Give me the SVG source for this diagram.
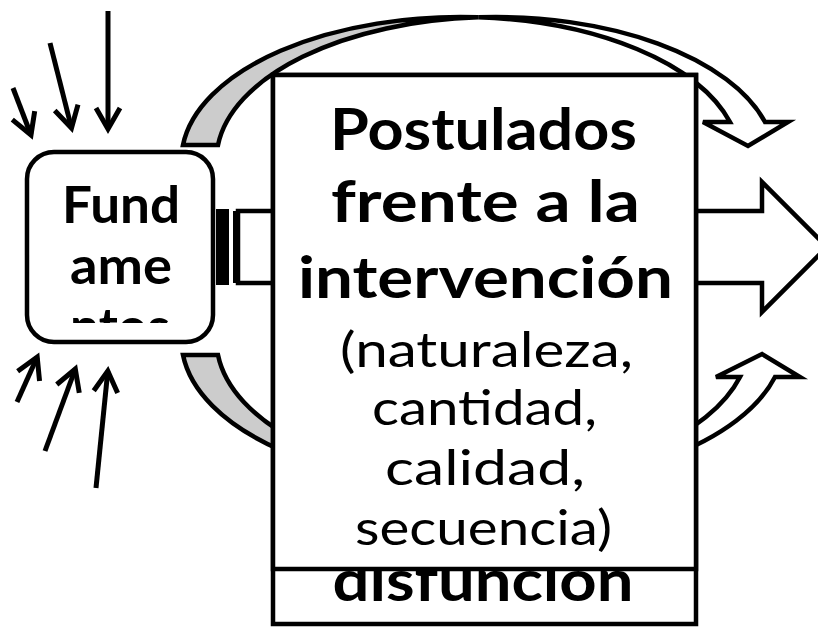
<svg xmlns="http://www.w3.org/2000/svg" width="818" height="627" viewBox="0 0 818 627">
<style>
.ln{stroke:#000;stroke-width:5;fill:none}
.shape{stroke:#000;stroke-width:4.5;stroke-linejoin:miter}
.grey{fill:#cccccc}
.white{fill:#ffffff}
.box{fill:#ffffff;stroke:#000;stroke-width:4.5}
.b{font-family:Lato,"Liberation Sans",sans-serif;font-weight:bold;text-anchor:middle;fill:#000}
.r{font-family:Lato,"Liberation Sans",sans-serif;font-weight:normal;text-anchor:middle;fill:#000}
</style>
<defs>
<marker id="ah" markerUnits="userSpaceOnUse" viewBox="-26 -16 32 32" markerWidth="32" markerHeight="32" refX="0" refY="0" orient="auto" overflow="visible">
<path d="M-21,-12 L0,0 L-21,12" fill="none" stroke="#000" stroke-width="5"/>
</marker>
<clipPath id="fclip"><rect x="27" y="152" width="186" height="171"/></clipPath>
</defs>
<rect width="818" height="627" fill="#fff"/>
<g id="connectors">
<line class="ln" x1="13" y1="88" x2="31" y2="135" marker-end="url(#ah)"/>
<line class="ln" x1="50" y1="43" x2="71.5" y2="128" marker-end="url(#ah)"/>
<line class="ln" x1="108" y1="11" x2="108" y2="129" marker-end="url(#ah)"/>
<line class="ln" x1="17" y1="402" x2="37.2" y2="357" marker-end="url(#ah)"/>
<line class="ln" x1="45" y1="451" x2="75.3" y2="369" marker-end="url(#ah)"/>
<line class="ln" x1="96" y1="488" x2="107.8" y2="371" marker-end="url(#ah)"/>
<g id="curved-top">
<path class="shape white" d="M478.3,17.3 A279.3,143 0 0,1 765,122 L788,122 L748,146 L703,122 L730,122 A279.3,143 0 0,0 478.3,17.3 Z"/>
<path class="shape grey" d="M183,145 A279.3,143 0 0,1 478.3,17.3 A279.3,143 0 0,0 218,145 Z"/>
</g>
<g id="curved-bottom">
<path class="shape white" d="M483,484.7 A284,145 0 0,0 775,377 L800,377 L762,354 L716,377 L740,377 A284,145 0 0,1 483,484.7 Z"/>
<path class="shape grey" d="M183,355 A284,145 0 0,0 483,484.7 A284,145 0 0,1 218,355 Z"/>
</g>
<g id="striped-arrow">
<rect x="218" y="211" width="9" height="72" fill="#000" stroke="#000" stroke-width="4"/>
<rect x="233" y="211" width="4" height="72" fill="#000"/>
<path class="shape white" d="M238,211 H762 V182 L827,247 L762,312 V283 H238 Z"/>
</g>
</g>
<g id="node-back">
<rect class="box" x="273" y="75" width="423" height="549"/>
<text class="b" x="483" y="601" font-size="58" textLength="301" lengthAdjust="spacingAndGlyphs">disfunción</text>
</g>
<g id="node-main">
<rect class="box" x="273" y="75" width="423" height="494"/>
<text class="b" x="483.5" y="150" font-size="58" textLength="307" lengthAdjust="spacingAndGlyphs">Postulados</text>
<text class="b" x="485.5" y="222" font-size="58" textLength="309" lengthAdjust="spacingAndGlyphs">frente a la</text>
<text class="b" x="485.5" y="298" font-size="58" textLength="375" lengthAdjust="spacingAndGlyphs">intervención</text>
<text class="r" x="486.5" y="367" font-size="48" textLength="293" lengthAdjust="spacingAndGlyphs">(naturaleza,</text>
<text class="r" x="484.5" y="425" font-size="48" textLength="225" lengthAdjust="spacingAndGlyphs">cantidad,</text>
<text class="r" x="485" y="485" font-size="48" textLength="200" lengthAdjust="spacingAndGlyphs">calidad,</text>
<text class="r" x="483.5" y="545" font-size="48" textLength="257" lengthAdjust="spacingAndGlyphs">secuencia)</text>
</g>
<g id="node-fundamentos">
<rect class="box" x="27" y="152" width="186" height="190" rx="27" ry="27"/>
<g clip-path="url(#fclip)">
<text class="b" x="121" y="223" font-size="52" textLength="118" lengthAdjust="spacingAndGlyphs">Fund</text>
<text class="b" x="121" y="284" font-size="52" textLength="102" lengthAdjust="spacingAndGlyphs">ame</text>
<text class="b" x="120" y="345" font-size="52" textLength="100" lengthAdjust="spacingAndGlyphs">ntos</text>
</g>
</g>
</svg>
